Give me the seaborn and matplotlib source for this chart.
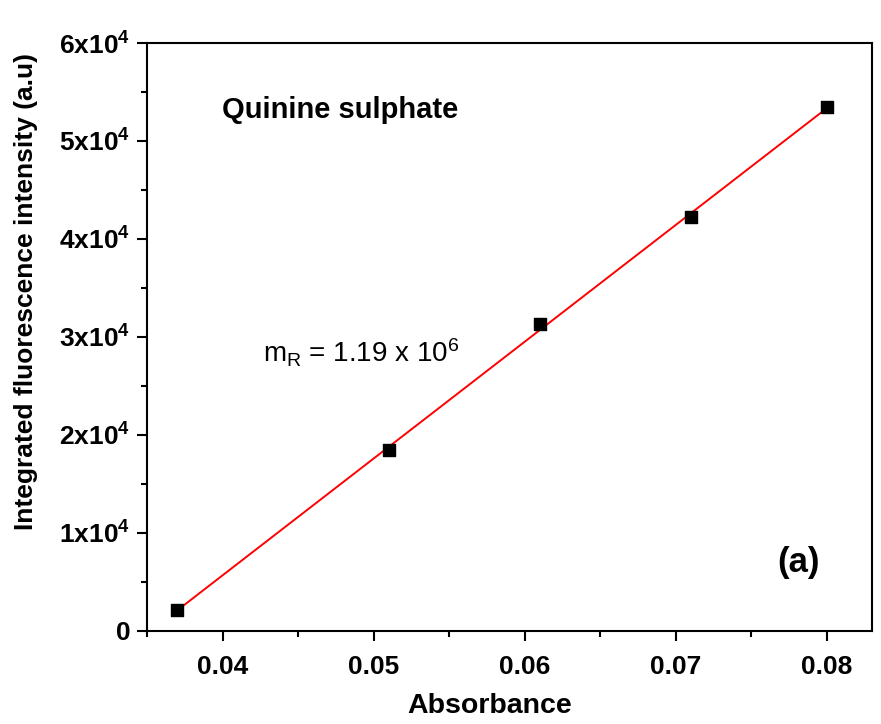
import matplotlib
matplotlib.use("Agg")
import matplotlib.pyplot as plt
import numpy as np
import pandas as pd
import seaborn as sns
from matplotlib.ticker import FuncFormatter, MultipleLocator

# Data
absorbance = [0.037, 0.051, 0.061, 0.071, 0.080]
intensity = [2150, 18450, 31300, 42200, 53450]
x_ticks = [0.04, 0.05, 0.06, 0.07, 0.08]
y_ticks = [0, 10000, 20000, 30000, 40000, 50000, 60000]

df = pd.DataFrame({"Absorbance": absorbance, "Intensity": intensity})

sns.set_style("ticks")
plt.rcParams["font.family"] = ["Liberation Sans", "DejaVu Sans"]
plt.rcParams["mathtext.fontset"] = "custom"
plt.rcParams["mathtext.rm"] = "Liberation Sans"
plt.rcParams["mathtext.bf"] = "Liberation Sans:bold"
plt.rcParams["mathtext.it"] = "Liberation Sans:italic"
for k in ["text.color", "axes.labelcolor", "xtick.color", "ytick.color", "axes.edgecolor"]:
    plt.rcParams[k] = "black"

fig = plt.figure(figsize=(8.81, 7.24), dpi=100)
ax = fig.add_axes([0.1669, 0.1285, 0.8229, 0.8121])

sns.regplot(
    data=df, x="Absorbance", y="Intensity", ax=ax, ci=None, truncate=True,
    marker="s",
    scatter_kws={"color": "black", "s": 75, "zorder": 3, "alpha": 1},
    line_kws={"color": "red", "lw": 1.4, "zorder": 2},
)

ax.set_xlim(0.035, 0.083)
ax.set_ylim(0, 60000)
ax.set_xticks(x_ticks)
ax.set_yticks(y_ticks)
ax.xaxis.set_minor_locator(MultipleLocator(0.005))
ax.yaxis.set_minor_locator(MultipleLocator(5000))


def y_fmt(v, pos):
    if v == 0:
        return "0"
    return r"$\mathbf{%dx10^{4}}$" % round(v / 10000)


ax.yaxis.set_major_formatter(FuncFormatter(y_fmt))
ax.xaxis.set_major_formatter(FuncFormatter(lambda v, p: f"{v:.2f}"))

ax.tick_params(axis="both", which="major", direction="out", length=7, width=1.5,
               labelsize=19, top=False, right=False)
ax.tick_params(axis="x", which="major", pad=10)
ax.tick_params(axis="y", which="major", pad=5)
ax.tick_params(axis="both", which="minor", direction="out", length=4, width=1.5,
               top=False, right=False)
for lbl in ax.get_xticklabels() + ax.get_yticklabels():
    lbl.set_fontweight("bold")

for s in ax.spines.values():
    s.set_visible(True)
    s.set_linewidth(1.5)
    s.set_color("black")

ax.set_xlabel("Absorbance", fontsize=20.5, fontweight="bold")
ax.set_ylabel("Integrated fluorescence intensity (a.u)", fontsize=19,
              fontweight="bold")
ax.xaxis.set_label_coords(0.473, -0.106)
ax.yaxis.set_label_coords(-0.15, 0.578)

ax.text(0.103, 0.886, "Quinine sulphate", transform=ax.transAxes,
        fontsize=21, fontweight="bold", va="center", ha="left")
ax.text(0.16, 0.473, r"m$_\mathrm{R}$ = 1.19 x 10$^\mathrm{6}$", transform=ax.transAxes,
        fontsize=20, va="center", ha="left")
ax.text(0.869, 0.117, "(a)", transform=ax.transAxes,
        fontsize=25, fontweight="bold", va="center", ha="left")

fig.savefig("out.png", dpi=100)
